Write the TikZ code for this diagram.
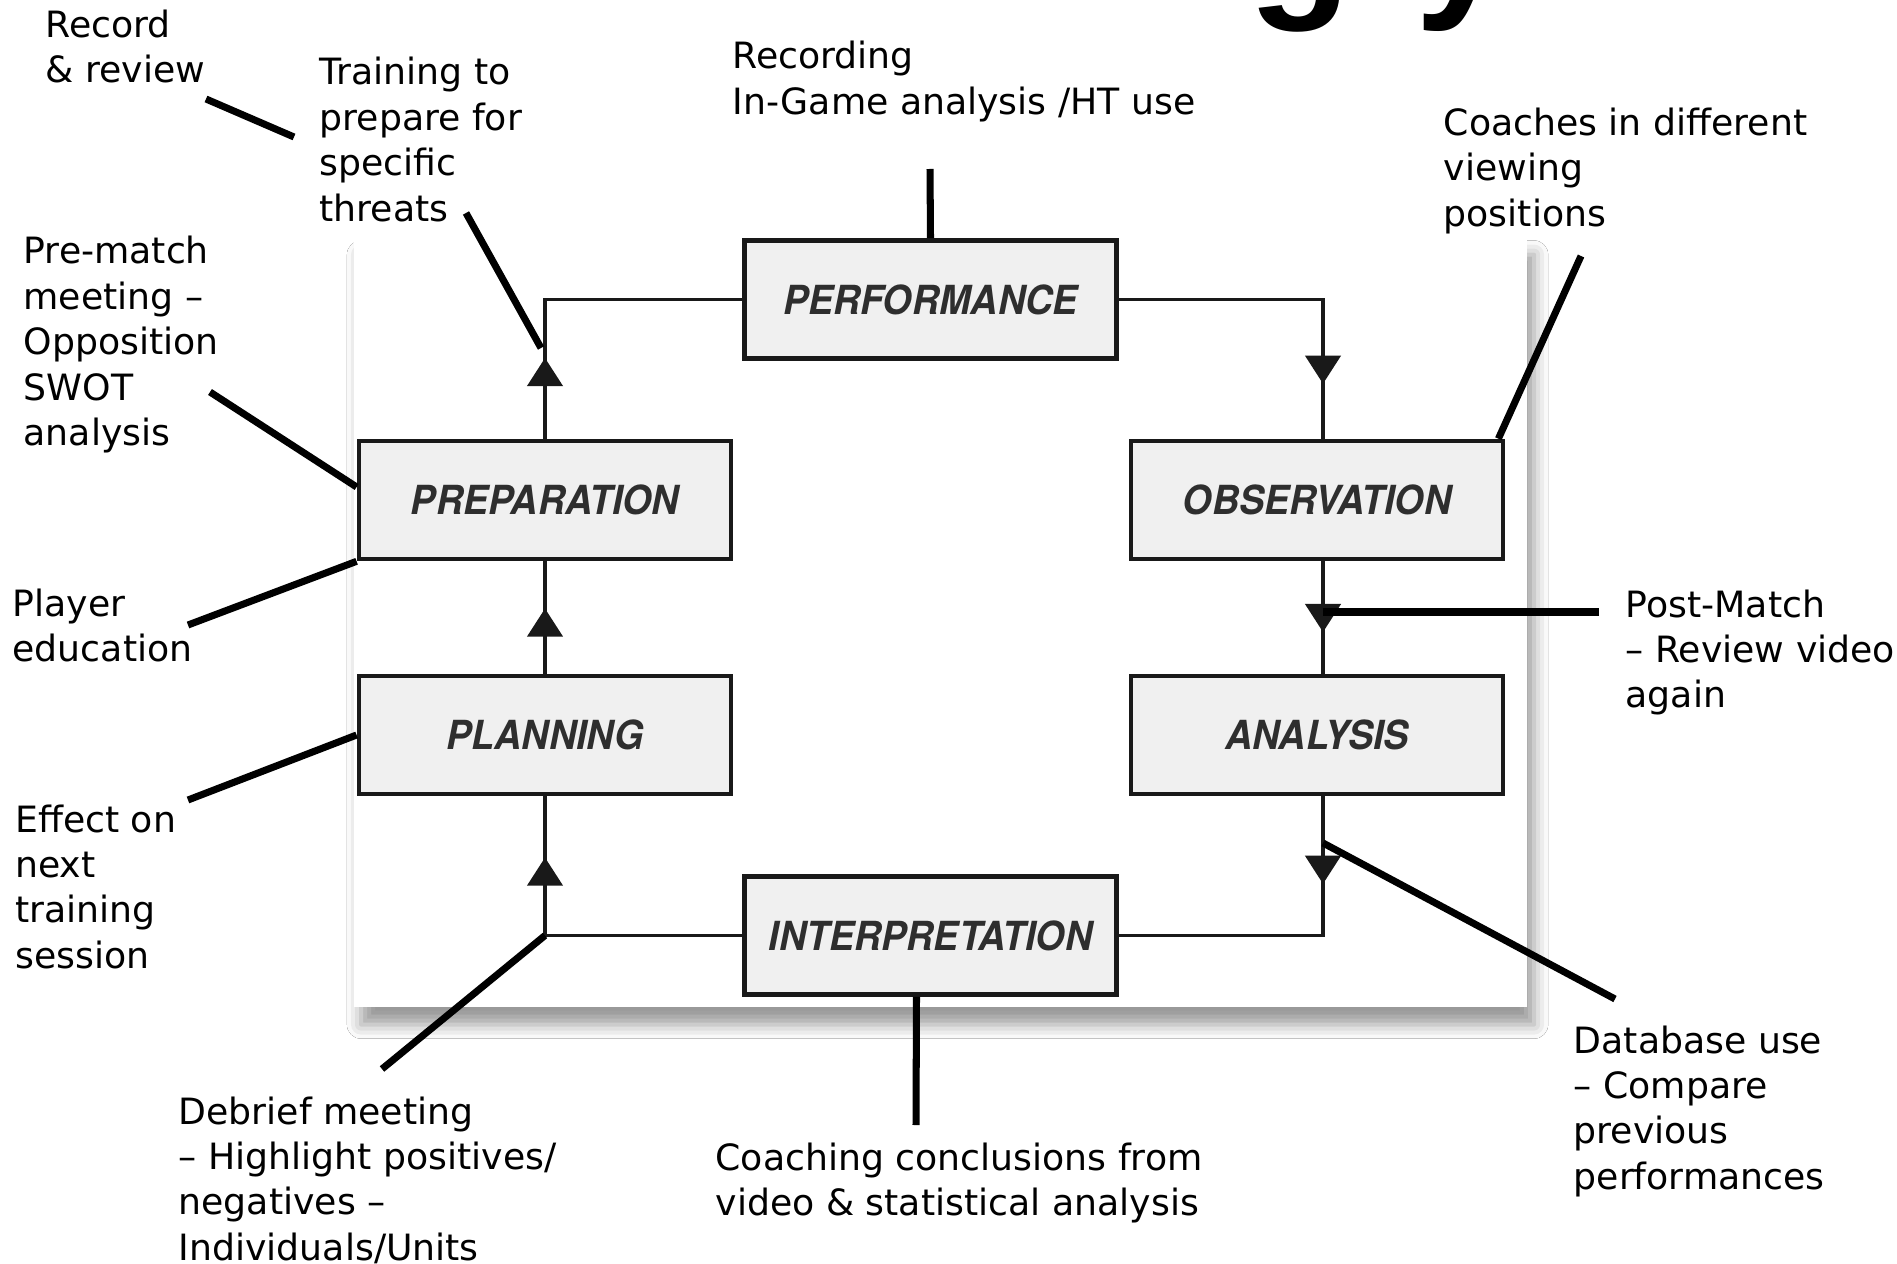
\documentclass[tikz,border=0pt]{standalone}
\usepackage{fontspec}
\usepackage{graphicx}
\setmainfont{DejaVu Sans}
\newfontfamily\boxfont{TeX Gyre Heros}
\newfontfamily\titlefont{Liberation Sans}
\usetikzlibrary{arrows.meta,decorations.markings,shadows.blur,calc}
\newcommand{\lbl}[1]{\begin{tabular}[t]{@{}l@{}}#1\end{tabular}}
\newcommand{\stagetext}[1]{\scalebox{0.94}[1]{#1}}
\begin{document}
\begin{tikzpicture}[x=0.01cm,y=-0.01cm,
  stage/.style={draw=black!90, line width=1.3pt, fill=black!6,
    minimum width=3.72cm, minimum height=1.18cm, inner sep=0pt,
    font=\boxfont\bfseries\itshape\fontsize{11.4pt}{13pt}\selectfont, text=black!82},
  flow/.style={line width=1.1pt, draw=black!90},
  tipat/.style={decoration={markings,
      mark=at position #1 with {\arrow{Triangle[width=10pt,length=8pt]}}},
    postaction={decorate}},
  note/.style={anchor=base west, inner sep=0pt,
    font=\fontsize{10.3pt}{12.9pt}\selectfont},
  leader/.style={line width=2pt, draw=black},
]
\useasboundingbox (0,0) rectangle (1897,1264);
\fill[white] (0,0) rectangle (1897,1264);

% cut-off title (only its descenders show)
\begin{scope}
\clip (0,0) rectangle (1897,1264);
\node[anchor=base west, inner sep=0pt,
  font=\titlefont\bfseries\fontsize{48pt}{50pt}\selectfont] (title) at (1248,-3) {g\kern 18pt y};
\end{scope}

% panel
\fill[white, blur shadow={shadow xshift=2pt, shadow yshift=-5pt,
  shadow blur radius=4pt, shadow opacity=40}] (354,237) rectangle (1527,1007);

% stages
\node[stage] (perf)   at (930.5,299.5) {\stagetext{PERFORMANCE}};
\node[stage] (prep)   at (545,500)     {\stagetext{PREPARATION}};
\node[stage] (obs)    at (1317,500)    {\stagetext{OBSERVATION}};
\node[stage] (plan)   at (545,735)     {\stagetext{PLANNING}};
\node[stage] (ana)    at (1317,735)    {\stagetext{ANALYSIS}};
\node[stage] (interp) at (930.5,935.5) {\stagetext{INTERPRETATION}};

% cycle connectors
\draw[flow, tipat=0.24]  (prep.north) |- (perf.west);
\draw[flow, tipat=0.84]  (perf.east) -| ([xshift=0.06cm]obs.north);
\draw[flow, tipat=0.63]  ([xshift=0.06cm]obs.south) -- ([xshift=0.06cm]ana.north);
\draw[flow, tipat=0.255] ([xshift=0.06cm]ana.south) |- (interp.east);
\draw[flow, tipat=0.818] (interp.west) -| (plan.south);
\draw[flow, tipat=0.58]  (plan.north) -- (prep.south);

% labels
\node[note] (record)    at (45,37.5)   {\lbl{Record\\\& review}};
\node[note] (training)  at (319,85)    {\lbl{Training to\\prepare for\\specific\\threats}};
\node[note] (recording) at (732,69)    {\lbl{Recording\\In-Game analysis /HT use}};
\node[note] (coaches)   at (1443,135.5){\lbl{Coaches in different\\viewing\\positions}};
\node[note] (prematch)  at (23,264)    {\lbl{Pre-match\\meeting –\\Opposition\\SWOT\\analysis}};
\node[note] (player)    at (12,616)    {\lbl{Player\\education}};
\node[note] (postmatch) at (1625,617)  {\lbl{Post-Match\\– Review video\\again}};
\node[note] (effect)    at (14.5,832)  {\lbl{Effect on\\next\\training\\session}};
\node[note] (debrief)   at (178,1124)  {\lbl{Debrief meeting\\– Highlight positives/\\negatives –\\Individuals/Units}};
\node[note] (coaching)  at (715,1170)  {\lbl{Coaching conclusions from\\video \& statistical analysis}};
\node[note] (database)  at (1573,1053) {\lbl{Database use\\– Compare\\previous\\performances}};

% free ends of leader lines
\coordinate (recA) at (206,99);    \coordinate (recB) at (294,137);
\coordinate (trA)  at (466,213);   \coordinate (trB)  at (541,348);
\coordinate (rcA)  at (930,169);
\coordinate (coA)  at (1581,256);
\coordinate (pmA)  at (210,392);
\coordinate (plA)  at (188,625);
\coordinate (efA)  at (188,800);
\coordinate (poA)  at (1599,612);  \coordinate (poB)  at (1323,612);
\coordinate (dbA)  at (1615,999);  \coordinate (dbB)  at (1323,843);
\coordinate (ccA)  at (916,1125);
\coordinate (deA)  at (382,1069);

% leader lines
\draw[leader] (recA) -- (recB);
\draw[leader] (trA) -- (trB);
\draw[leader] (rcA) -- (perf.north);
\draw[leader] (coA) -- ([xshift=-0.07cm]obs.north east);
\draw[leader] (pmA) -- ([yshift=0.13cm]prep.west);
\draw[leader] (plA) -- (prep.south west);
\draw[leader] (efA) -- (plan.west);
\draw[leader] (poA) -- (poB);
\draw[leader] (dbA) -- (dbB);
\draw[leader] (ccA) -- ([xshift=-0.14cm]interp.south);
\draw[leader] (deA) -- (interp.west -| plan.south);
\end{tikzpicture}
\end{document}
